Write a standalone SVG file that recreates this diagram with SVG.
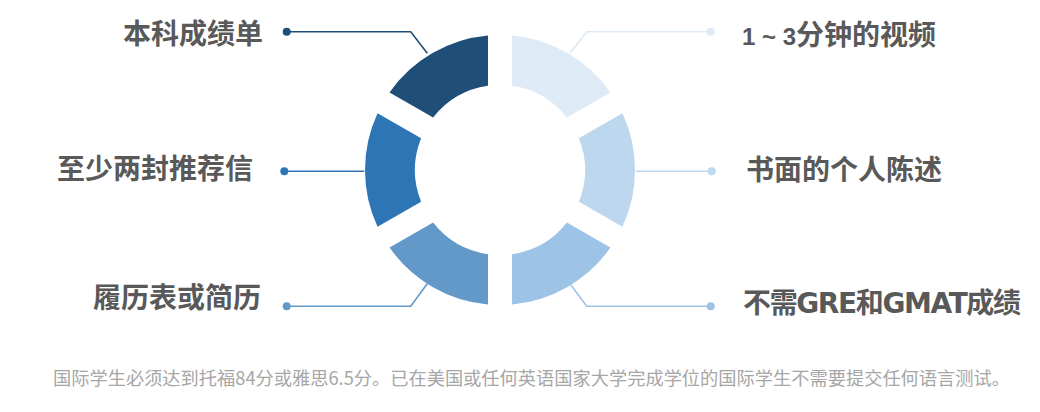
<svg xmlns="http://www.w3.org/2000/svg" width="1040" height="412" viewBox="0 0 1040 412">
  <defs>
    <style>
      .lbl { font-family: "Liberation Sans", "Noto Sans CJK SC", sans-serif; font-weight: 700; font-size: 28px; fill: #595959; }
      .lat { font-family: "DejaVu Sans", sans-serif; font-weight: 700; }
      .note { font-family: "Noto Sans CJK SC", sans-serif; font-size: 18px; fill: #A6A6A6; }
      .conn { fill: none; stroke-width: 1.6; }
    </style>
    <path id="seg" d="M 122.45 -56.84 A 135 135 0 0 1 122.45 56.84 L 78.88 31.68 A 85 85 0 0 0 78.88 -31.68 Z"/>
  </defs>
  <rect width="1040" height="412" fill="#FFFFFF"/>

  <g id="connectors">
    <polyline class="conn" stroke="#1F4E79" points="286.7,31.7 410.7,31.7 427.3,53.3"/>
    <circle cx="286.7" cy="31.7" r="4" fill="#1F4E79"/>
    <polyline class="conn" stroke="#2E75B6" points="284.3,171.3 364.3,171.3"/>
    <circle cx="284.3" cy="171.3" r="4" fill="#2E75B6"/>
    <polyline class="conn" stroke="#6399C9" points="286.7,306.3 410.7,306.3 430,280"/>
    <circle cx="286.7" cy="306.3" r="4" fill="#6399C9"/>
    <polyline class="conn" stroke="#DEEBF7" points="710.7,31.7 586.7,31.7 570,53.3"/>
    <circle cx="710.7" cy="31.7" r="4" fill="#DEEBF7"/>
    <polyline class="conn" stroke="#BDD7EE" points="711.7,171.3 635.7,171.3"/>
    <circle cx="711.7" cy="171.3" r="4" fill="#BDD7EE"/>
    <polyline class="conn" stroke="#9DC3E6" points="710.7,306.3 586.7,306.3 571,285"/>
    <circle cx="710.7" cy="306.3" r="4" fill="#9DC3E6"/>
  </g>

  <g id="node-transcript">
    <use href="#seg" transform="translate(500,170) rotate(240)" fill="#1F4E79"/>
    <text class="lbl" x="263" y="44" text-anchor="end">本科成绩单</text>
  </g>
  <g id="node-recommendation">
    <use href="#seg" transform="translate(500,170) rotate(180)" fill="#2E75B6"/>
    <text class="lbl" x="253" y="179" text-anchor="end">至少两封推荐信</text>
  </g>
  <g id="node-resume">
    <use href="#seg" transform="translate(500,170) rotate(120)" fill="#6399C9"/>
    <text class="lbl" x="261" y="308" text-anchor="end">履历表或简历</text>
  </g>
  <g id="node-video">
    <use href="#seg" transform="translate(500,170) rotate(300)" fill="#DEEBF7"/>
    <text class="lbl" x="742" y="45"><tspan font-size="24">1 ~ 3</tspan>分钟的视频</text>
  </g>
  <g id="node-statement">
    <use href="#seg" transform="translate(500,170) rotate(0)" fill="#BDD7EE"/>
    <text class="lbl" x="746" y="179.5">书面的个人陈述</text>
  </g>
  <g id="node-gre">
    <use href="#seg" transform="translate(500,170) rotate(60)" fill="#9DC3E6"/>
    <text class="lbl" x="743" y="313" textLength="278" lengthAdjust="spacing">不需<tspan class="lat">GRE</tspan>和<tspan class="lat">GMAT</tspan>成绩</text>
  </g>

  <text class="note" x="53" y="385" textLength="957" lengthAdjust="spacingAndGlyphs">国际学生必须达到托福84分或雅思6.5分。已在美国或任何英语国家大学完成学位的国际学生不需要提交任何语言测试。</text>
</svg>
